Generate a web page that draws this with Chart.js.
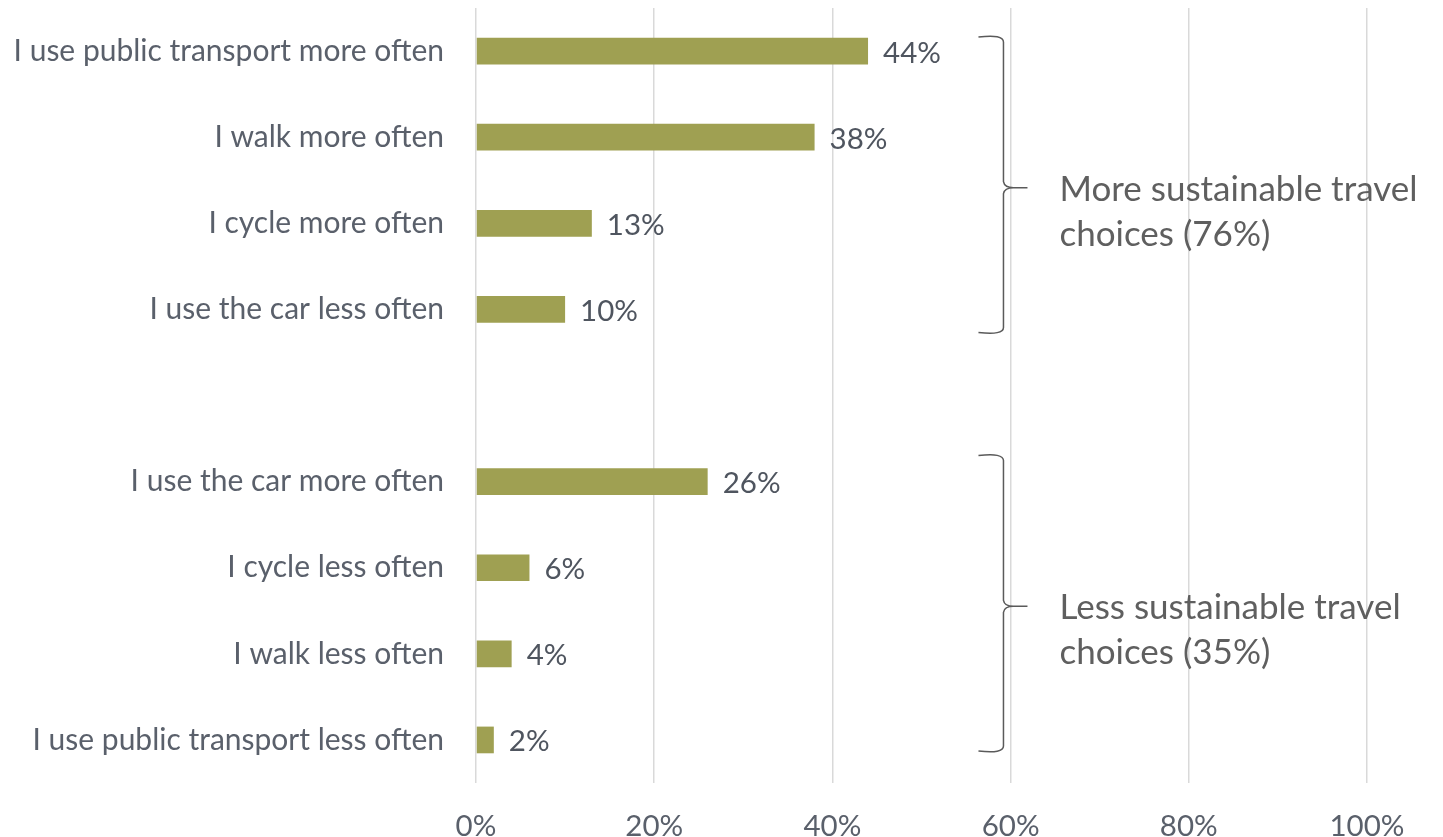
<!DOCTYPE html>
<html>
<head>
<meta charset="utf-8">
<script src="https://cdn.jsdelivr.net/npm/chart.js@4"></script>
<style>
  html, body { margin: 0; padding: 0; background: #ffffff; }
  #wrap { width: 1443px; height: 837px; position: relative; }
</style>
</head>
<body>
<div id="wrap"><canvas id="c"></canvas></div>
<script>
// Survey answers: change in travel behaviour (share of respondents)
const categories = [
  'I use public transport more often',
  'I walk more often',
  'I cycle more often',
  'I use the car less often',
  '',
  'I use the car more often',
  'I cycle less often',
  'I walk less often',
  'I use public transport less often'
];
const shares = [44, 38, 13, 10, null, 26, 6, 4, 2];
const xTicks = [0, 20, 40, 60, 80, 100];

// Grouped summaries shown beside the braces
const groupNames = ['More sustainable travel', 'Less sustainable travel'];
const groupTotals = [76, 35];
const groupFirst = [0, 5];
const groupLast = [3, 8];

const FONT = 'Lato, "Open Sans", sans-serif';
const LABEL_COLOR = '#5a606b';
const SIDE_COLOR = '#5f5f5f';

// Percent labels at the end of each bar
const valueLabels = {
  id: 'valueLabels',
  afterDatasetsDraw(chart) {
    const ctx = chart.ctx;
    const meta = chart.getDatasetMeta(0);
    ctx.save();
    ctx.font = '29.5px ' + FONT;
    ctx.fillStyle = '#4f555f';
    ctx.textAlign = 'left';
    ctx.textBaseline = 'middle';
    meta.data.forEach((bar, i) => {
      const v = shares[i];
      if (v === null || v === undefined) return;
      ctx.fillText(v + '%', bar.x + 15, bar.y + 2);
    });
    ctx.restore();
  }
};

// Curly braces grouping the answers, with their summary text
const groupBraces = {
  id: 'groupBraces',
  afterDraw(chart) {
    const ctx = chart.ctx;
    const y = chart.scales.y;
    const x = chart.scales.x;
    const spineX = x.getPixelForValue(59.2);
    const armX = spineX - 25;
    const tipX = spineX + 24;
    const tops = [-15, -27];
    const bottoms = [24, 12];
    groupNames.forEach((name, g) => {
      const top = y.getPixelForValue(groupFirst[g]) + tops[g];
      const bottom = y.getPixelForValue(groupLast[g]) + bottoms[g];
      const mid = (top + bottom) / 2 + 3;
      const r = 6;
      ctx.save();
      ctx.strokeStyle = '#5a5a5a';
      ctx.lineWidth = 1.5;
      ctx.beginPath();
      ctx.moveTo(armX, top + 1);
      ctx.quadraticCurveTo(spineX, top - 2, spineX, top + r);
      ctx.lineTo(spineX, mid - r);
      ctx.quadraticCurveTo(spineX + 1, mid, tipX - 14, mid);
      ctx.lineTo(tipX, mid);
      ctx.moveTo(tipX - 14, mid);
      ctx.quadraticCurveTo(spineX + 1, mid, spineX, mid + r);
      ctx.lineTo(spineX, bottom - r);
      ctx.quadraticCurveTo(spineX, bottom + 2, armX, bottom - 1);
      ctx.stroke();

      ctx.font = '35px ' + FONT;
      ctx.fillStyle = SIDE_COLOR;
      ctx.textAlign = 'left';
      ctx.textBaseline = 'alphabetic';
      ctx.fillText(name, tipX + 32, mid + 13);
      ctx.fillText('choices (' + groupTotals[g] + '%)', tipX + 32, mid + 58);
      ctx.restore();
    });
  }
};

new Chart(document.getElementById('c'), {
  type: 'bar',
  data: {
    labels: categories,
    datasets: [{
      data: shares,
      backgroundColor: '#9fa052',
      borderWidth: 0,
      barPercentage: 0.31,
      categoryPercentage: 1.0
    }]
  },
  options: {
    indexAxis: 'y',
    responsive: true,
    maintainAspectRatio: false,
    animation: false,
    layout: { padding: { left: 0, right: 76, top: 8, bottom: 0 } },
    plugins: {
      legend: { display: false },
      tooltip: { enabled: false }
    },
    scales: {
      x: {
        min: 0,
        max: 100,
        afterBuildTicks(scale) {
          scale.ticks = xTicks.map(v => ({ value: v }));
        },
        afterFit(scale) {
          scale.height = 54;
          scale.paddingLeft = 0;
          scale.paddingRight = 0;
        },
        grid: { color: '#d9d9d9', lineWidth: 1.5, drawTicks: false },
        border: { display: false },
        ticks: {
          padding: 26,
          color: LABEL_COLOR,
          font: { family: FONT, size: 29.5 },
          callback: v => v + '%'
        }
      },
      y: {
        afterFit(scale) {
          scale.width = 476;
          scale.paddingTop = 0;
          scale.paddingBottom = 0;
        },
        grid: { display: false, drawTicks: false },
        border: { display: false },
        ticks: {
          padding: 32,
          color: LABEL_COLOR,
          font: { family: FONT, size: 30 }
        }
      }
    }
  },
  plugins: [valueLabels, groupBraces]
});
</script>
</body>
</html>
